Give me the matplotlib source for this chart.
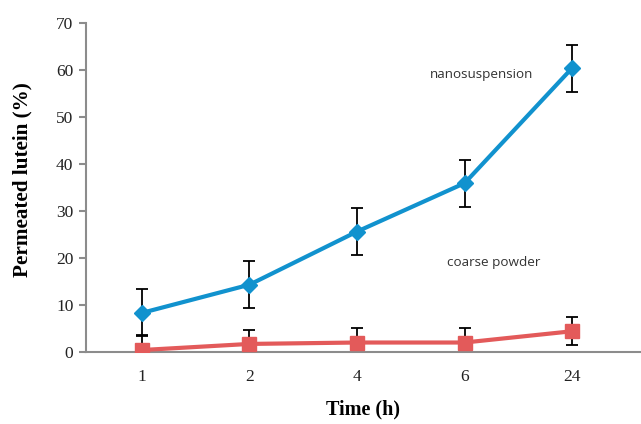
import numpy as np
import matplotlib.pyplot as plt

times = ["1", "2", "4", "6", "24"]
nano = [8.3, 14.3, 25.6, 35.9, 60.4]
nano_err = [5.0, 5.0, 5.0, 5.0, 5.0]
coarse = [0.4, 1.7, 2.0, 2.0, 4.4]
coarse_err = [3.1, 3.0, 3.0, 3.0, 3.0]

blue = "#1192CE"
red = "#E35A5A"
grey = "#8C8C8C"

fig = plt.figure(figsize=(6.41, 4.24), dpi=100)
ax = fig.add_axes([0.134, 0.170, 0.866, 0.776])
x = np.arange(len(times))

ax.errorbar(x, nano, yerr=nano_err, fmt="none", ecolor="black", elinewidth=1.3,
            capsize=4, capthick=1.3, zorder=2)
ax.errorbar(x, coarse, yerr=coarse_err, fmt="none", ecolor="black", elinewidth=1.3,
            capsize=4, capthick=1.3, zorder=2)
ax.plot(x, nano, color=blue, lw=3, marker="D", ms=8, zorder=3)
ax.plot(x, coarse, color=red, lw=3, marker="s", ms=10, zorder=3)

ax.text(3.16, 59, "nanosuspension", fontsize=9.7, family="Open Sans",
        color="#333333", ha="center", va="center")
ax.text(3.27, 19, "coarse powder", fontsize=9.7, family="Open Sans",
        color="#333333", ha="center", va="center")

ax.set_xlim(-0.52, 4.64)
ax.set_ylim(0, 70)
ax.set_yticks(range(0, 71, 10))
ax.set_xticks(x)
ax.set_xticklabels(times)
for s in ["top", "right"]:
    ax.spines[s].set_visible(False)
for s in ["left", "bottom"]:
    ax.spines[s].set_color(grey)
    ax.spines[s].set_linewidth(1.5)
ax.tick_params(axis="y", length=5, width=1.5, color=grey, labelsize=12.5, pad=4)
ax.tick_params(axis="x", length=0, labelsize=12.5, pad=12)
for lab in ax.get_xticklabels() + ax.get_yticklabels():
    lab.set_family("Liberation Serif")
    lab.set_color("#222222")

ax.set_xlabel("Time (h)", family="Liberation Serif", fontsize=14.5,
              fontweight="bold", labelpad=11)
ax.set_ylabel("Permeated lutein (%)", family="Liberation Serif", fontsize=15.2,
              fontweight="bold")
ax.yaxis.set_label_coords(-0.097, 0.524)

fig.savefig("out.png", dpi=100)
